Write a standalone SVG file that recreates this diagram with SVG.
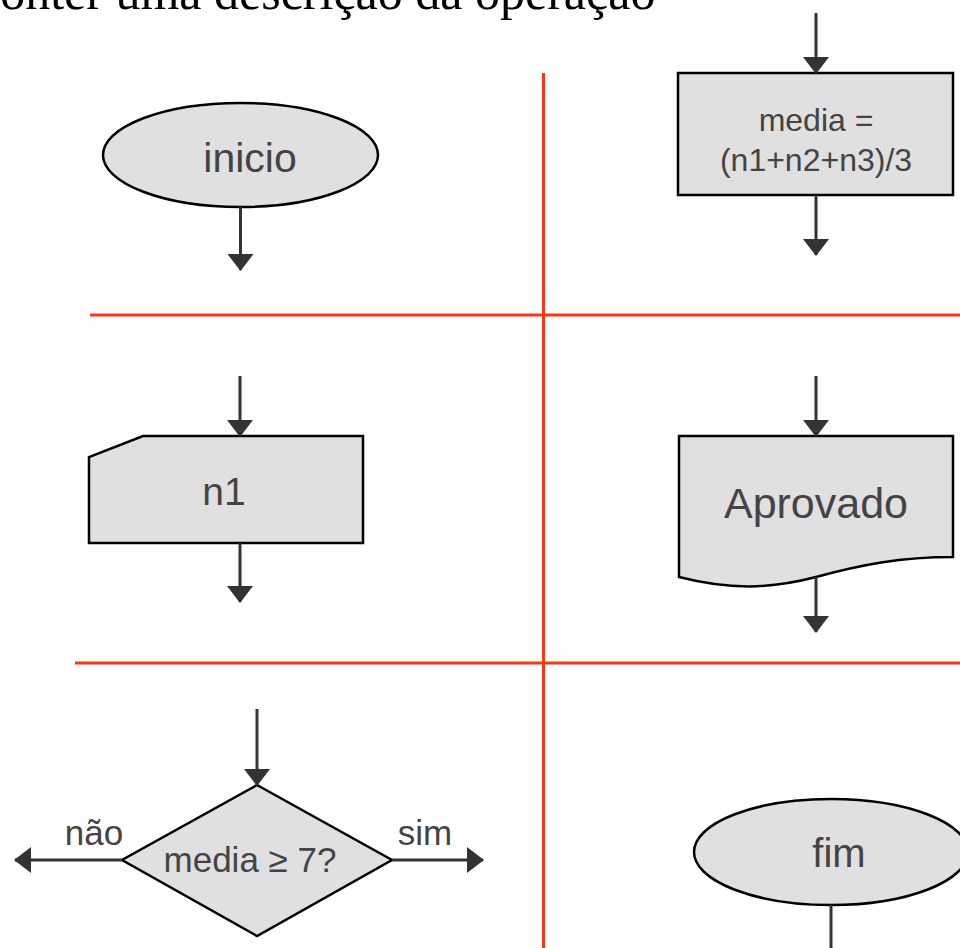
<svg xmlns="http://www.w3.org/2000/svg" width="960" height="948" viewBox="0 0 960 948">
<style>
.shape{fill:#e0e0e0;stroke:#000;stroke-width:2.5}
.lbl{font-family:"Liberation Sans",Arial,sans-serif;fill:#444;text-anchor:middle}
.conn{stroke:#333;stroke-width:3;fill:none}
.grid{stroke:#ff3516;stroke-width:3}
</style>
<defs>
<marker id="ah" viewBox="0 0 17 26" markerWidth="17" markerHeight="26" refX="16" refY="13" orient="auto" markerUnits="userSpaceOnUse">
<path d="M0,0 L17,13 L0,26 Z" fill="#333"/>
</marker>
</defs>
<rect width="960" height="948" fill="#fff"/>
<text x="-22" y="9" font-family="'Liberation Serif','Times New Roman',serif" font-size="50" fill="#000">conter uma descrição da operação</text>
<g id="grid">
<line class="grid" x1="543.5" y1="73" x2="543.5" y2="948"/>
<line class="grid" x1="90" y1="315" x2="960" y2="315"/>
<line class="grid" x1="75" y1="663" x2="960" y2="663"/>
</g>
<g id="inicio">
<ellipse class="shape" cx="240.5" cy="155" rx="137.5" ry="52"/>
<text class="lbl" x="250" y="172" font-size="41">inicio</text>
</g>
<g id="calc">
<rect class="shape" x="678" y="73" width="275" height="122"/>
<text class="lbl" x="816" y="131" font-size="32">media =</text>
<text class="lbl" x="816" y="171" font-size="32">(n1+n2+n3)/3</text>
</g>
<g id="entrada">
<polygon class="shape" points="143,436 363,436 363,543 89,543 89,457"/>
<text class="lbl" x="224" y="505" font-size="39">n1</text>
</g>
<g id="aprovado">
<path class="shape" d="M679,436 L953,436 L953,557 C900,557 860,565 816,577 C770,589 730,590 679,577 Z"/>
<text class="lbl" x="816" y="518" font-size="43">Aprovado</text>
</g>
<g id="decisao">
<polygon class="shape" points="257,785 392,860 257,936 122,860"/>
<text class="lbl" x="250" y="872" font-size="35">media ≥ 7?</text>
</g>
<g id="fim">
<ellipse class="shape" cx="831" cy="852" rx="137" ry="53"/>
<text class="lbl" x="839" y="867" font-size="40">fim</text>
</g>
<g id="labels">
<text class="lbl" x="94" y="845" font-size="35">não</text>
<text class="lbl" x="425" y="845" font-size="35">sim</text>
</g>
<g id="connectors">
<line class="conn" x1="240.5" y1="207" x2="240.5" y2="270" marker-end="url(#ah)"/>
<line class="conn" x1="816" y1="13" x2="816" y2="73" marker-end="url(#ah)"/>
<line class="conn" x1="816" y1="195" x2="816" y2="255" marker-end="url(#ah)"/>
<line class="conn" x1="240" y1="376" x2="240" y2="436" marker-end="url(#ah)"/>
<line class="conn" x1="240" y1="543" x2="240" y2="602" marker-end="url(#ah)"/>
<line class="conn" x1="816" y1="376" x2="816" y2="436" marker-end="url(#ah)"/>
<line class="conn" x1="816" y1="577" x2="816" y2="632" marker-end="url(#ah)"/>
<line class="conn" x1="257" y1="709" x2="257" y2="785" marker-end="url(#ah)"/>
<line class="conn" x1="122" y1="860" x2="15" y2="860" marker-end="url(#ah)"/>
<line class="conn" x1="392" y1="860" x2="483" y2="860" marker-end="url(#ah)"/>
<line class="conn" x1="831" y1="905" x2="831" y2="948"/>
</g>
</svg>
